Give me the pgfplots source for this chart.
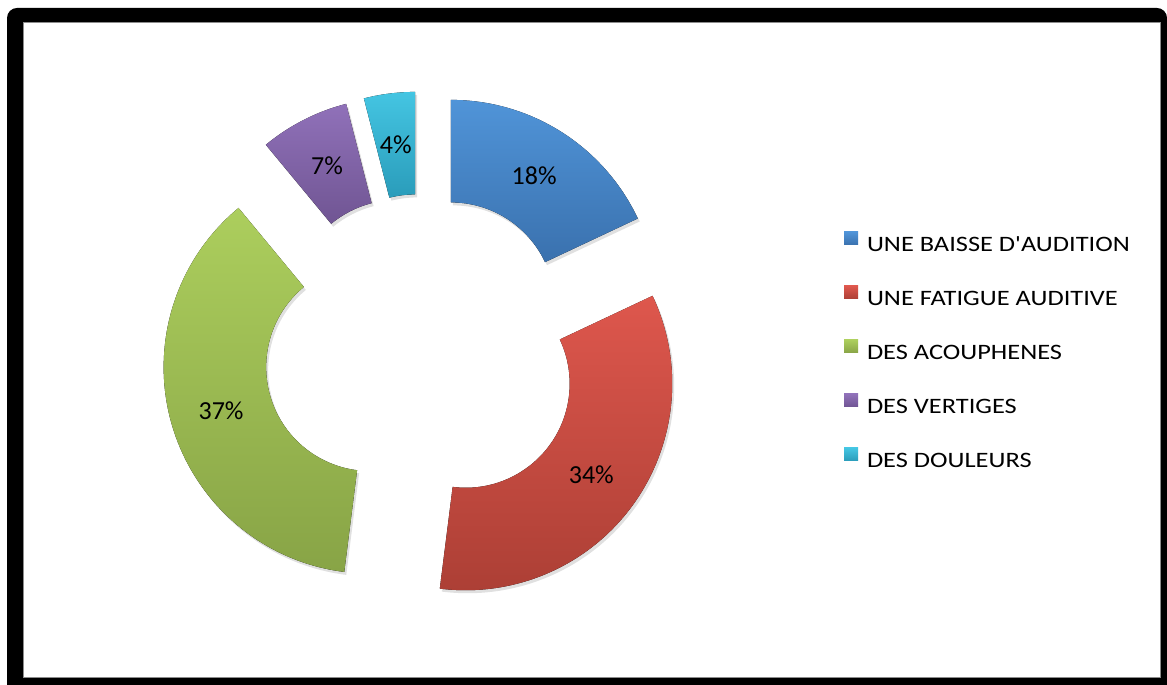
\documentclass[border=0pt]{standalone}
\usepackage{pgfplots}
\pgfplotsset{compat=1.18}
\usepackage{pgfplotstable}
\usepackage{fontspec}
\setmainfont{Carlito}
\newfontfamily\legendfont[FakeStretch=1.2]{Carlito}

\definecolor{blueT}{RGB}{80,148,216}
\definecolor{blueB}{RGB}{58,113,174}
\definecolor{redT}{RGB}{222,87,77}
\definecolor{redB}{RGB}{172,63,53}
\definecolor{greenT}{RGB}{172,206,93}
\definecolor{greenB}{RGB}{136,164,70}
\definecolor{purpleT}{RGB}{144,113,185}
\definecolor{purpleB}{RGB}{112,85,147}
\definecolor{cyanT}{RGB}{68,197,226}
\definecolor{cyanB}{RGB}{42,156,186}

% share of each answer (percent), clockwise from the top
\pgfplotstableread{
value top bottom
18 blueT blueB
34 redT redB
37 greenT greenB
7 purpleT purpleB
4 cyanT cyanB
}\slices

% donut geometry in pixels of the original picture (y up)
\def\cx{422}\def\cy{333}
\def\Rout{206.5}\def\Rin{104}\def\expl{54}

\begin{document}
\begin{tikzpicture}
\begin{axis}[
  x=0.5pt, y=0.5pt,
  xmin=0, xmax=1167, ymin=0, ymax=685,
  hide axis, clip=false,
  legend cell align=left,
  legend image code/.code={\fill[draw=none,#1] (0pt,0.5pt) rectangle (7pt,7pt);},
  legend style={at={(axis cs:844,453)}, anchor=north west,
    draw=none, fill=none, inner sep=0pt, outer sep=0pt,
    row sep=15pt, column sep=4.5pt,
    font=\legendfont\fontsize{11}{13}\selectfont,
    nodes={inner sep=0pt, text height=8pt, text depth=2pt}},
]
\path (axis cs:0,0) rectangle (axis cs:1167,685);
% black frame
\fill[black] (axis cs:1167,0) -- (axis cs:7,0) [rounded corners=5pt]
  -- (axis cs:7,677) -- (axis cs:1167,677) [sharp corners] -- cycle;
\fill[white, draw=black!45, line width=0.4pt] (axis cs:23,8) rectangle (axis cs:1160,663);

\addlegendimage{top color=blueT, bottom color=blueB}
\addlegendentry{UNE BAISSE D'AUDITION}
\addlegendimage{top color=redT, bottom color=redB}
\addlegendentry{UNE FATIGUE AUDITIVE}
\addlegendimage{top color=greenT, bottom color=greenB}
\addlegendentry{DES ACOUPHENES}
\addlegendimage{top color=purpleT, bottom color=purpleB}
\addlegendentry{DES VERTIGES}
\addlegendimage{top color=cyanT, bottom color=cyanB}
\addlegendentry{DES DOULEURS}

\pgfmathsetmacro\RoutPt{\Rout*0.5}
\pgfmathsetmacro\RinPt{\Rin*0.5}
\def\cum{0}
\pgfplotsforeachungrouped \i in {0,...,4}{
  \pgfplotstablegetelem{\i}{value}\of\slices \let\v\pgfplotsretval
  \pgfplotstablegetelem{\i}{top}\of\slices \let\ctop\pgfplotsretval
  \pgfplotstablegetelem{\i}{bottom}\of\slices \let\cbot\pgfplotsretval
  \pgfmathsetmacro\aA{90-3.6*\cum}
  \pgfmathsetmacro\aB{90-3.6*(\cum+\v)}
  \pgfmathsetmacro\aM{(\aA+\aB)/2}
  \pgfmathsetmacro\ox{\cx+\expl*cos(\aM)}
  \pgfmathsetmacro\oy{\cy+\expl*sin(\aM)}
  \pgfmathsetmacro\xA{\ox+\Rout*cos(\aA)}
  \pgfmathsetmacro\yA{\oy+\Rout*sin(\aA)}
  \pgfmathsetmacro\xB{\ox+\Rin*cos(\aB)}
  \pgfmathsetmacro\yB{\oy+\Rin*sin(\aB)}
  \pgfmathsetmacro\xL{\ox+(\Rout+\Rin)/2*cos(\aM)}
  \pgfmathsetmacro\yL{\oy+(\Rout+\Rin)/2*sin(\aM)}
  \edef\doslice{%
    \noexpand\fill[black, opacity=0.12, xshift=1pt, yshift=-1.5pt]
      (axis cs:\xA,\yA) arc[start angle=\aA, end angle=\aB, radius=\RoutPt pt]
      -- (axis cs:\xB,\yB) arc[start angle=\aB, end angle=\aA, radius=\RinPt pt] -- cycle;
    \noexpand\fill[top color=\ctop, bottom color=\cbot]
      (axis cs:\xA,\yA) arc[start angle=\aA, end angle=\aB, radius=\RoutPt pt]
      -- (axis cs:\xB,\yB) arc[start angle=\aB, end angle=\aA, radius=\RinPt pt] -- cycle;
    \noexpand\node[font=\noexpand\fontsize{13}{15}\noexpand\selectfont]
      at (axis cs:\xL,\yL) {\v\noexpand\%};
  }
  \doslice
  \pgfmathsetmacro\cum{\cum+\v}
}
\end{axis}
\end{tikzpicture}
\end{document}
